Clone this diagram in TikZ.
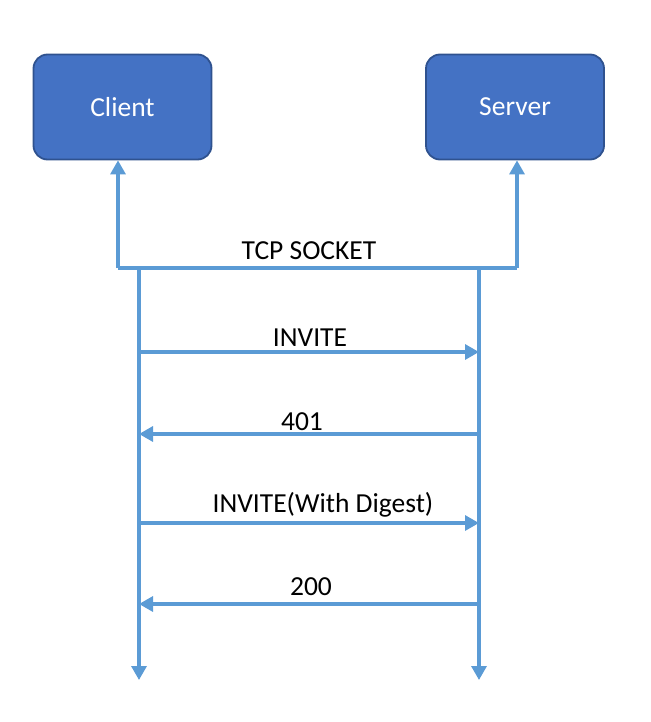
\documentclass[tikz,border=0pt]{standalone}
\usepackage{fontspec}
\setmainfont{Carlito}
\usetikzlibrary{arrows.meta}
\definecolor{boxfill}{HTML}{4472C4}
\definecolor{boxline}{HTML}{2F528F}
\definecolor{arrowc}{HTML}{5B9BD5}
\tikzset{
  actor/.style={draw=boxline, line width=1.8pt, fill=boxfill, rounded corners=14pt,
    minimum width=178pt, minimum height=105pt, text=white, font=\fontsize{27.5}{32}\selectfont, inner sep=0pt},
  flow/.style={draw=arrowc, line width=3.2pt, -{Triangle[length=14pt,width=15pt]}},
  plain/.style={draw=arrowc, line width=3.2pt},
  msg/.style={anchor=base, font=\fontsize{27.5}{32}\selectfont, inner sep=0pt, text=black}
}
\begin{document}
\begin{tikzpicture}[x=1pt,y=-1pt]
\useasboundingbox (0,0) rectangle (650,722);
\node[actor] (client) at (122.5,107) {\raisebox{-2pt}{Client}};
\node[actor] (server) at (515,107) {\raisebox{-2pt}{Server}};
% TCP socket bus
\coordinate (cl) at (118,268);
\coordinate (sr) at (517,268);
\draw[plain] (cl) -- (sr);
\draw[flow] (cl) -- (cl |- client.south);
\draw[flow] (sr) -- (sr |- server.south);
\node[msg] (tcp) at (309,259) {TCP SOCKET};
% lifelines
\coordinate (ct) at (139,268);
\coordinate (cb) at (139,680);
\coordinate (st) at (479,268);
\coordinate (sb) at (479,680);
\draw[flow] (ct) -- (cb);
\draw[flow] (st) -- (sb);
% messages
\coordinate (m1a) at (139,352); \coordinate (m1b) at (479,352);
\coordinate (m2a) at (479,434); \coordinate (m2b) at (139,434);
\coordinate (m3a) at (139,523); \coordinate (m3b) at (479,523);
\coordinate (m4a) at (479,604); \coordinate (m4b) at (139,604);
\draw[flow] (m1a) -- (m1b);
\draw[flow] (m2a) -- (m2b);
\draw[flow] (m3a) -- (m3b);
\draw[flow] (m4a) -- (m4b);
\node[msg] (l1) at (310,346) {INVITE};
\node[msg] (l2) at (302,430) {401};
\node[msg] (l3) at (323,512) {INVITE(With Digest)};
\node[msg] (l4) at (311,595) {200};
\end{tikzpicture}
\end{document}
